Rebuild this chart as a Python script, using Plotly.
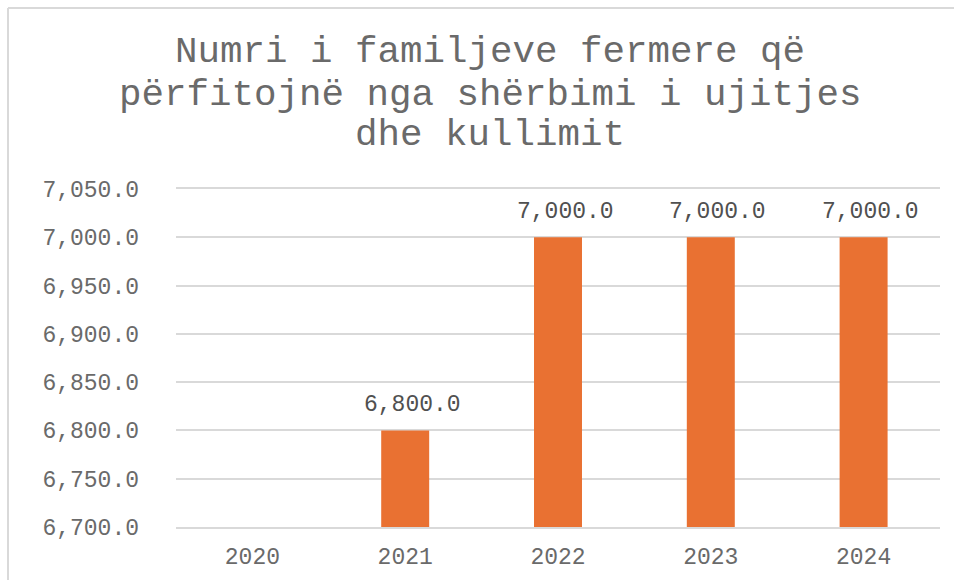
import plotly.graph_objects as go

years = ["2020", "2021", "2022", "2023", "2024"]
families = [None, 6800, 7000, 7000, 7000]
y_ticks = [6700, 6750, 6800, 6850, 6900, 6950, 7000, 7050]
title_lines = ["Numri i familjeve fermere që",
               "përfitojnë nga shërbimi i ujitjes",
               "dhe kullimit"]

FONT = "Liberation Mono, Courier New, monospace"
W, H = 954, 580
L, R, T, B = 176, 940, 189, 527

def px_x(p):
    return (p - L) / (R - L)

def px_y(p):
    return (B - p) / (B - T)

fig = go.Figure()
fig.add_trace(go.Bar(
    x=years, y=families,
    marker=dict(color="#E97132", line=dict(width=0)),
    hoverinfo="x+y",
))

annotations = []
for line, yc in zip(title_lines, [52, 95, 135]):
    annotations.append(dict(
        text=line, xref="paper", yref="paper",
        x=px_x(490), y=px_y(yc), xanchor="center", yanchor="middle",
        showarrow=False, font=dict(family=FONT, size=37.5, color="#6a6a6a"),
    ))
for i, v in enumerate(families):
    if v is None:
        continue
    annotations.append(dict(
        text=f"{v:,.1f}", x=i, y=v, xref="x", yref="y",
        xanchor="center", yanchor="middle", xshift=7, yshift=25,
        showarrow=False, font=dict(family=FONT, size=23, color="#505050"),
    ))

fig.update_layout(
    width=W, height=H,
    margin=dict(l=L, r=W - R, t=T, b=H - B, pad=0, autoexpand=False),
    paper_bgcolor="white", plot_bgcolor="white",
    showlegend=False,
    bargap=0.686,
    annotations=annotations,
    shapes=[
        dict(type="line", xref="paper", yref="paper",
             x0=px_x(8), x1=px_x(960), y0=px_y(8), y1=px_y(8),
             line=dict(color="#D9D9D9", width=2)),
        dict(type="line", xref="paper", yref="paper",
             x0=px_x(8), x1=px_x(8), y0=px_y(8), y1=px_y(600),
             line=dict(color="#D9D9D9", width=2)),
    ],
    xaxis=dict(
        type="category", range=[-0.5, len(years) - 0.5],
        showgrid=False, zeroline=False, automargin=False,
        showline=True, mirror=True, linecolor="#D9D9D9", linewidth=1.5,
        ticks="", tickfont=dict(family=FONT, size=23, color="#6a6a6a"),
        ticklabelstandoff=8,
    ),
    yaxis=dict(
        range=[6700, 7050], tickvals=y_ticks, automargin=False,
        ticktext=[f"{v:,.1f}" for v in y_ticks],
        showgrid=True, gridcolor="#D9D9D9", gridwidth=1.5,
        zeroline=False, showline=False, ticks="",
        tickfont=dict(family=FONT, size=23, color="#6a6a6a"),
        ticklabelstandoff=36,
    ),
)

fig.write_html("out.html", config={"displayModeBar": False},
               post_script="document.body.style.margin='0px';")
